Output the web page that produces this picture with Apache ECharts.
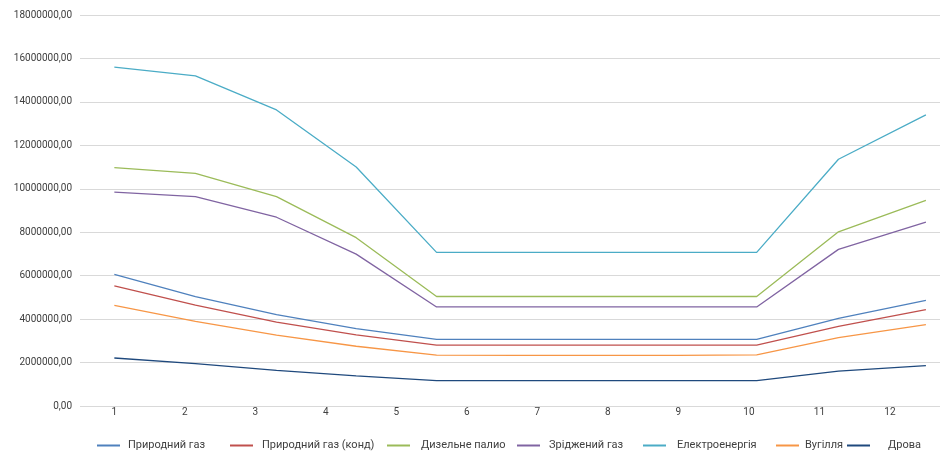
<!DOCTYPE html>
<html>
<head>
<meta charset="utf-8">
<script src="https://cdn.jsdelivr.net/npm/echarts@6/dist/echarts.min.js"></script>
<style>html,body{margin:0;padding:0;background:#fff}#c{width:940px;height:457px}</style>
</head>
<body>
<div id="c"></div>
<script>
// Tick labels on the x axis
const monthLabels = [1, 2, 3, 4, 5, 6, 7, 8, 9, 10, 11, 12];
// Positions of the data points along the x axis (in label units)
const pointX = [1, 2.15, 3.3, 4.43, 5.57, 6.71, 7.84, 8.98, 10.11, 11.27, 12.51];

const seriesNames = ['Природний газ', 'Природний газ (конд)', 'Дизельне палио', 'Зріджений газ', 'Електроенергія', 'Вугілля', 'Дрова'];

const natGas     = [6060000, 5040000, 4210000, 3560000, 3070000, 3070000, 3070000, 3070000, 3070000, 4030000, 4860000];
const natGasCond = [5530000, 4640000, 3860000, 3270000, 2800000, 2800000, 2800000, 2800000, 2800000, 3670000, 4440000];
const diesel     = [10970000, 10710000, 9640000, 7750000, 5040000, 5040000, 5040000, 5040000, 5040000, 8020000, 9470000];
const lpg        = [9850000, 9640000, 8690000, 6990000, 4560000, 4560000, 4560000, 4560000, 4560000, 7210000, 8470000];
const electricity= [15600000, 15200000, 13630000, 11000000, 7070000, 7070000, 7070000, 7070000, 7070000, 11360000, 13400000];
const coal       = [4630000, 3900000, 3260000, 2750000, 2340000, 2330000, 2330000, 2330000, 2350000, 3150000, 3750000];
const firewood   = [2210000, 1950000, 1640000, 1390000, 1170000, 1170000, 1170000, 1170000, 1170000, 1610000, 1860000];

const allValues = [natGas, natGasCond, diesel, lpg, electricity, coal, firewood];
const colors = ['#4F81BD', '#C0504D', '#9BBB59', '#8064A2', '#4BACC6', '#F79646', '#1F497D'];

const legendLeft = [97, 230, 387, 517, 643, 776, 847];
const legendPad = [3, 4, 6, 4, 6, 1, 13];

const FONT = 'Roboto';
const chart = echarts.init(document.getElementById('c'), null, {renderer: 'canvas'});

const series = seriesNames.map((name, i) => ({
  name: name,
  type: 'line',
  data: pointX.map((x, j) => [x, allValues[i][j]]),
  symbol: 'none',
  showSymbol: false,
  lineStyle: {width: 1.3, color: colors[i]},
  itemStyle: {color: colors[i]},
  animation: false
}));

const legends = seriesNames.map((name, i) => ({
  data: [name],
  left: legendLeft[i],
  top: 440,
  padding: 0,
  icon: 'rect',
  itemWidth: 23,
  itemHeight: 2,
  itemGap: 0,
  textStyle: {fontFamily: FONT, fontSize: 11, color: '#404040', padding: [0, 0, 0, legendPad[i]]}
}));

chart.setOption({
  backgroundColor: '#fff',
  animation: false,
  color: colors,
  grid: {left: 80, right: 0, top: 15, bottom: 51, containLabel: false},
  legend: legends,
  xAxis: {
    type: 'value',
    min: 0.513,
    max: 12.71,
    axisLine: {show: false},
    axisTick: {show: false},
    splitLine: {show: false},
    axisLabel: {customValues: monthLabels, fontFamily: FONT, fontSize: 10, color: '#404040', margin: 1}
  },
  yAxis: {
    type: 'value',
    min: 0,
    max: 18000000,
    interval: 2000000,
    axisLine: {show: false},
    axisTick: {show: false},
    splitLine: {lineStyle: {color: '#D9D9D9', width: 1}},
    axisLabel: {
      fontFamily: FONT, fontSize: 10, color: '#404040', margin: 8,
      formatter: v => v.toFixed(2).replace('.', ',')
    }
  },
  series: series
});
</script>
</body>
</html>
